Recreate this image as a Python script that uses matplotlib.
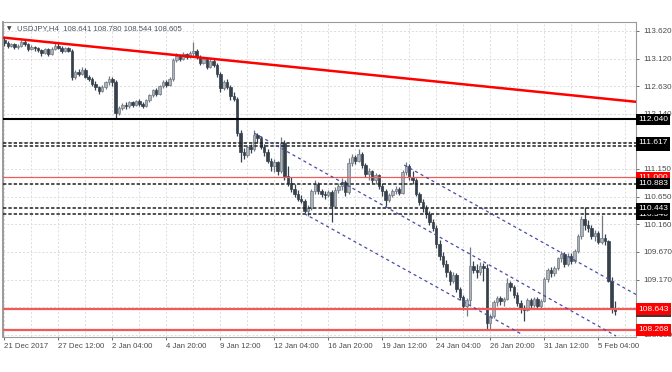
import matplotlib
matplotlib.use("Agg")
import matplotlib.pyplot as plt
import matplotlib.transforms as mtransforms
import numpy as np

plt.rcParams['font.family'] = ['Liberation Sans', 'DejaVu Sans']

# USDJPY H4 candles
opens = [113.45, 113.40, 113.36, 113.38, 113.33, 113.35, 113.42, 113.39, 113.30, 113.34,
         113.31, 113.28, 113.22, 113.29, 113.21, 113.30, 113.36, 113.32, 113.27, 113.31,
         113.27, 112.79, 112.88, 112.85, 112.93, 112.80, 112.76, 112.68, 112.61, 112.55,
         112.62, 112.70, 112.76, 112.70, 112.16, 112.25, 112.30, 112.27, 112.34, 112.29,
         112.36, 112.32, 112.28, 112.38, 112.47, 112.56, 112.50, 112.63, 112.71, 112.66,
         112.76, 113.10, 113.18, 113.12, 113.20, 113.15, 113.23, 113.26, 113.15, 113.05,
         113.12, 112.98, 113.08, 113.02, 112.85, 112.60, 112.70, 112.62, 112.45, 112.40,
         111.79, 111.45, 111.40, 111.55, 111.50, 111.76, 111.70, 111.55, 111.46, 111.30,
         111.20, 111.28, 111.12, 111.62, 111.02, 110.90, 110.80, 110.70, 110.62, 110.58,
         110.40, 110.45, 110.75, 110.88, 110.75, 110.70, 110.68, 110.73, 110.48, 110.78,
         110.84, 110.92, 110.74, 111.26, 111.36, 111.30, 111.42, 111.22, 111.06, 111.12,
         110.95, 111.04, 110.85, 110.76, 110.60, 110.68, 110.76, 110.80, 110.72, 111.10,
         111.20, 111.00, 110.95, 110.70, 110.55, 110.45, 110.35, 110.20, 110.10, 109.80,
         109.60, 109.45, 109.30, 109.15, 109.25, 109.00, 108.85, 108.70, 108.80, 109.42,
         109.35, 109.30, 109.42, 109.38, 108.40, 108.52, 108.76, 108.84, 108.78, 108.82,
         109.10, 109.04, 108.90, 108.75, 108.65, 108.62, 108.80, 108.72, 108.82, 108.70,
         108.78, 109.18, 109.34, 109.28, 109.38, 109.55, 109.62, 109.45, 109.60, 109.50,
         109.68, 109.95, 110.25, 110.15, 110.10, 109.95, 110.00, 109.85, 109.92, 109.86,
         109.15, 108.641]
highs = [113.52, 113.44, 113.41, 113.40, 113.38, 113.46, 113.45, 113.41, 113.37, 113.36,
         113.34, 113.30, 113.31, 113.31, 113.33, 113.40, 113.43, 113.35, 113.33, 113.34,
         113.30, 112.92, 112.94, 112.97, 112.95, 112.84, 112.79, 112.72, 112.64, 112.66,
         112.73, 112.82, 112.80, 112.74, 112.28, 112.33, 112.34, 112.37, 112.37, 112.39,
         112.40, 112.35, 112.40, 112.50, 112.58, 112.60, 112.66, 112.74, 112.75, 112.80,
         113.14, 113.22, 113.21, 113.24, 113.23, 113.27, 113.42, 113.30, 113.19, 113.16,
         113.14, 113.11, 113.12, 113.04, 112.88, 112.74, 112.76, 112.66, 112.52, 112.43,
         111.84, 111.52, 111.58, 111.60, 111.84, 111.80, 111.74, 111.60, 111.50, 111.35,
         111.32, 111.30, 111.72, 111.66, 111.20, 111.00, 110.88, 110.78, 110.68, 110.62,
         110.50, 110.80, 110.96, 110.92, 110.80, 110.76, 110.78, 110.78, 110.82, 110.90,
         110.98, 110.95, 111.34, 111.42, 111.40, 111.50, 111.45, 111.26, 111.16, 111.14,
         111.08, 111.06, 110.90, 110.80, 110.72, 110.80, 110.84, 110.83, 111.14, 111.28,
         111.24, 111.12, 110.98, 110.74, 110.62, 110.50, 110.40, 110.26, 110.14, 109.88,
         109.66, 109.52, 109.34, 109.30, 109.28, 109.04, 108.90, 108.84, 109.76, 109.50,
         109.44, 109.48, 109.46, 109.44, 108.56, 108.80, 108.88, 108.87, 108.86, 109.20,
         109.14, 109.08, 108.94, 108.80, 108.72, 108.84, 108.84, 108.86, 108.85, 108.82,
         109.22, 109.38, 109.40, 109.42, 109.58, 109.68, 109.66, 109.64, 109.64, 109.72,
         109.98, 110.30, 110.47, 110.24, 110.14, 110.06, 110.04, 110.32, 109.98, 109.88,
         109.22, 108.780]
lows = [113.36, 113.32, 113.33, 113.29, 113.30, 113.33, 113.35, 113.27, 113.28, 113.27,
        113.24, 113.18, 113.20, 113.17, 113.19, 113.28, 113.30, 113.23, 113.25, 113.24,
        112.74, 112.76, 112.82, 112.83, 112.78, 112.72, 112.64, 112.57, 112.50, 112.52,
        112.58, 112.66, 112.64, 112.07, 112.12, 112.20, 112.22, 112.25, 112.26, 112.27,
        112.28, 112.24, 112.26, 112.35, 112.44, 112.46, 112.48, 112.60, 112.62, 112.64,
        112.73, 113.06, 113.08, 113.10, 113.11, 113.13, 113.18, 113.12, 113.02, 113.03,
        112.94, 112.95, 112.98, 112.80, 112.52, 112.56, 112.58, 112.38, 112.36, 111.74,
        111.28, 111.33, 111.36, 111.44, 111.48, 111.62, 111.50, 111.38, 111.26, 111.12,
        111.10, 111.04, 111.08, 110.96, 110.84, 110.74, 110.64, 110.57, 110.54, 110.36,
        110.31, 110.42, 110.70, 110.70, 110.64, 110.62, 110.64, 110.20, 110.45, 110.72,
        110.78, 110.66, 110.70, 111.20, 111.24, 111.27, 111.16, 111.00, 110.96, 110.90,
        110.88, 110.80, 110.66, 110.48, 110.55, 110.64, 110.70, 110.68, 110.70, 111.04,
        110.96, 110.88, 110.66, 110.50, 110.38, 110.28, 110.14, 110.04, 109.74, 109.52,
        109.40, 109.22, 109.08, 109.10, 108.94, 108.80, 108.62, 108.52, 108.72, 109.28,
        109.20, 109.26, 109.14, 108.27, 108.28, 108.48, 108.70, 108.72, 108.70, 108.80,
        108.96, 108.84, 108.70, 108.58, 108.42, 108.60, 108.66, 108.68, 108.64, 108.66,
        108.76, 109.12, 109.22, 109.24, 109.34, 109.48, 109.40, 109.42, 109.44, 109.46,
        109.64, 109.90, 110.06, 110.02, 109.90, 109.86, 109.80, 109.80, 109.78, 109.12,
        108.58, 108.544]
closes = [113.40, 113.36, 113.38, 113.33, 113.35, 113.42, 113.39, 113.30, 113.34, 113.31,
          113.28, 113.22, 113.29, 113.21, 113.30, 113.36, 113.32, 113.27, 113.31, 113.27,
          112.79, 112.88, 112.85, 112.93, 112.80, 112.76, 112.68, 112.61, 112.55, 112.62,
          112.70, 112.76, 112.70, 112.16, 112.25, 112.30, 112.27, 112.34, 112.29, 112.36,
          112.32, 112.28, 112.38, 112.47, 112.56, 112.50, 112.63, 112.71, 112.66, 112.76,
          113.10, 113.18, 113.12, 113.20, 113.15, 113.23, 113.26, 113.15, 113.05, 113.12,
          112.98, 113.08, 113.02, 112.85, 112.60, 112.70, 112.62, 112.45, 112.40, 111.79,
          111.45, 111.40, 111.55, 111.50, 111.76, 111.70, 111.55, 111.46, 111.30, 111.20,
          111.28, 111.12, 111.62, 111.02, 110.90, 110.80, 110.70, 110.62, 110.58, 110.40,
          110.45, 110.75, 110.88, 110.75, 110.70, 110.68, 110.73, 110.48, 110.78, 110.84,
          110.92, 110.74, 111.26, 111.36, 111.30, 111.42, 111.22, 111.06, 111.12, 110.95,
          111.04, 110.85, 110.76, 110.60, 110.68, 110.76, 110.80, 110.72, 111.10, 111.20,
          111.00, 110.95, 110.70, 110.55, 110.45, 110.35, 110.20, 110.10, 109.80, 109.60,
          109.45, 109.30, 109.15, 109.25, 109.00, 108.85, 108.70, 108.80, 109.42, 109.35,
          109.30, 109.42, 109.38, 108.40, 108.52, 108.76, 108.84, 108.78, 108.82, 109.10,
          109.04, 108.90, 108.75, 108.65, 108.62, 108.80, 108.72, 108.82, 108.70, 108.78,
          109.18, 109.34, 109.28, 109.38, 109.55, 109.62, 109.45, 109.60, 109.50, 109.68,
          109.95, 110.25, 110.15, 110.10, 109.95, 110.00, 109.85, 109.92, 109.86, 109.15,
          108.64, 108.605]

date_labels = ['21 Dec 2017', '27 Dec 12:00', '2 Jan 04:00', '4 Jan 20:00', '9 Jan 12:00',
               '12 Jan 04:00', '16 Jan 20:00', '19 Jan 12:00', '24 Jan 04:00', '26 Jan 20:00',
               '31 Jan 12:00', '5 Feb 04:00']
price_ticks = [113.62, 113.12, 112.63, 112.14, 111.64, 111.15, 110.65, 110.16, 109.67, 109.17, 108.68, 108.18]
price_tick_labels = ['113.620', '113.120', '112.630', '112.140', '', '111.150', '110.650',
                     '110.160', '109.670', '109.170', '', '108.180']

# drawn objects: (bar, price) end points
trend_red = [(0, 113.50), (187.6, 112.35)]
channel_lines = [[(74.1, 111.79), (181.3, 108.16)],
                 [(88.9, 110.35), (153.1, 108.20)],
                 [(118.5, 111.22), (187.6, 108.89)]]
black_solid = [112.040]
black_dashed = [111.617, 111.570, 110.883, 110.443, 110.340]
red_levels = [(111.000, 0.9), (108.643, 1.6), (108.268, 1.6)]
box_labels = [('112.040', 112.040, 'black'), ('111.570', 111.570, 'black'), ('111.617', 111.617, 'black'),
              ('111.000', 111.000, '#ff0000'), ('110.883', 110.883, 'black'),
              ('110.340', 110.340, 'black'), ('110.443', 110.443, 'black'),
              ('108.605', 108.605, '#3a3a3a'), ('108.643', 108.643, '#ff0000'),
              ('108.268', 108.268, '#ff0000')]

o = np.array(opens); h = np.array(highs); l = np.array(lows); c = np.array(closes)
idx = np.arange(len(c))
up = c >= o

fig = plt.figure(figsize=(6.72, 3.72), dpi=100)
ax = fig.add_axes([3/672, 1-337/372, 633/672, 315/372])
ax.set_xlim(-0.4, 187.2)
ax.set_ylim(108.142, 113.781)

# grid
for gx in range(0, 188, 8):
    ax.axvline(gx, color='#dcdcdc', lw=0.7, ls=(0, (2, 2)), zorder=0)
for gy in price_ticks:
    ax.axhline(gy, color='#dcdcdc', lw=0.7, ls=(0, (2, 2)), zorder=0)

bull_fill = '#adb3b9'
bull_edge = '#717a83'
bear = '#36414c'
ax.vlines(idx[up], l[up], h[up], color=bull_edge, lw=0.9, zorder=2)
ax.vlines(idx[~up], l[~up], h[~up], color=bear, lw=0.9, zorder=2)
ax.bar(idx[up], c[up]-o[up], bottom=o[up], width=0.72, color=bull_fill,
       edgecolor=bull_edge, linewidth=0.5, zorder=2)
ax.bar(idx[~up], o[~up]-c[~up], bottom=c[~up], width=0.72, color=bear,
       edgecolor=bear, linewidth=0.5, zorder=2)

# levels
for lv in black_solid:
    ax.axhline(lv, color='black', lw=1.5, zorder=3)
for lv in black_dashed:
    ax.axhline(lv, color='#202020', lw=1.1, ls=(0, (2.2, 1.3)), zorder=3)
for lv, w in red_levels:
    ax.axhline(lv, color='#f25a5a', lw=w, zorder=3)

(x0, y0), (x1, y1) = trend_red
ax.plot([x0, x1], [y0, y1], color='#ff0000', lw=1.8, zorder=3, clip_on=True)
for (a0, b0), (a1, b1) in channel_lines:
    ax.plot([a0, a1], [b0, b1], color='#4a4aa8', lw=0.9, ls=(0, (2.5, 2.5)), zorder=3)

# axes styling
for s in ax.spines.values():
    s.set_color('#9a9a9a')
    s.set_linewidth(0.8)
ax.spines['left'].set_linewidth(1.4)
ax.yaxis.tick_right()
ax.set_yticks(price_ticks)
ax.set_yticklabels(price_tick_labels)
ax.set_xticks(range(0, 16*len(date_labels), 16))
ax.set_xticklabels(date_labels, ha='left')
ax.tick_params(axis='both', labelsize=5.8, colors='#555555', length=2.5, width=0.6, pad=1.5)
ax.tick_params(axis='y', pad=2.5)
ax.tick_params(axis='x', pad=2.0, labelsize=5.6)
for t in ax.get_xticklabels():
    t.set_color('#4a4a4a')
for t in ax.get_yticklabels():
    t.set_color('#4a4a4a')

trans = mtransforms.blended_transform_factory(ax.transAxes, ax.transData)
for txt, yv, col in box_labels:
    ax.text(1.0035, yv, txt, transform=trans, fontsize=6.0, color='white', va='center', ha='left',
            clip_on=False, zorder=6,
            bbox=dict(boxstyle='square,pad=0.25', facecolor=col, edgecolor='none'))

ax.text(0.006, 0.985, '\u25bc', transform=ax.transAxes, fontsize=4.2, color='#3a4550',
        va='top', ha='left', family='DejaVu Sans')
ax.text(0.022, 0.99, 'USDJPY,H4  108.641 108.780 108.544 108.605', transform=ax.transAxes,
        fontsize=5.6, color='#4a5560', va='top', ha='left')

fig.savefig('out.png', dpi=100, facecolor='white')
